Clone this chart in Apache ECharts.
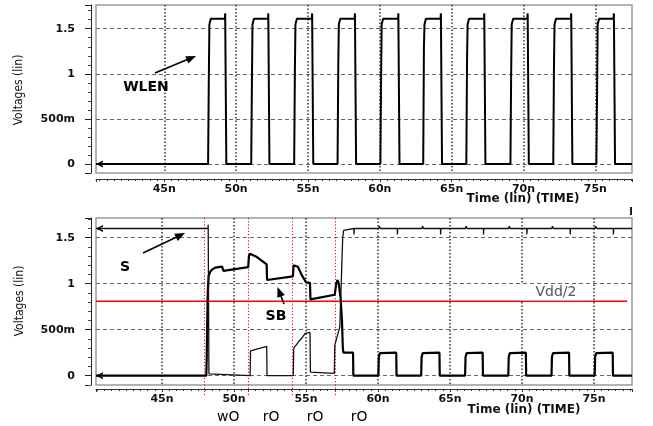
<!DOCTYPE html>
<html>
<head>
<meta charset="utf-8">
<script src="https://cdn.jsdelivr.net/npm/echarts@6/dist/echarts.min.js"></script>
<style>
html,body{margin:0;padding:0;background:#fff;}
#c{width:653px;height:426px;}
</style>
</head>
<body>
<div id="c"></div>
<script>
// ---------- data (time in ns, voltage in V) ----------
const wlen = [
  [40.25,0],
  [48.05,0],[48.08,-0.02],[48.10,0.93],[48.14,1.55],[48.24,1.61],[49.22,1.61],[49.24,1.67],[49.30,1.66],[49.32,0],
  [51.05,0],[51.08,-0.02],[51.10,0.90],[51.14,1.55],[51.24,1.61],[52.22,1.61],[52.24,1.67],[52.30,1.66],[52.32,0],
  [54.04,0],[54.07,-0.02],[54.09,1.03],[54.13,1.55],[54.23,1.61],[55.27,1.61],[55.29,1.67],[55.35,1.66],[55.37,0],
  [57.06,0],[57.09,-0.02],[57.11,1.10],[57.15,1.55],[57.25,1.61],[58.25,1.61],[58.27,1.67],[58.33,1.66],[58.35,0],
  [60.04,0],[60.07,-0.02],[60.09,0.95],[60.13,1.55],[60.23,1.61],[61.27,1.61],[61.29,1.67],[61.35,1.66],[61.37,0],
  [63.02,0],[63.05,-0.02],[63.07,1.30],[63.11,1.55],[63.21,1.61],[64.23,1.61],[64.25,1.67],[64.31,1.66],[64.33,0],
  [66.02,0],[66.05,-0.02],[66.07,1.15],[66.11,1.55],[66.21,1.61],[67.25,1.61],[67.27,1.67],[67.33,1.66],[67.35,0],
  [69.09,0],[69.12,-0.02],[69.14,1.00],[69.18,1.55],[69.28,1.61],[70.27,1.61],[70.29,1.67],[70.35,1.66],[70.37,0],
  [72.07,0],[72.10,-0.02],[72.12,1.10],[72.16,1.55],[72.26,1.61],[73.30,1.61],[73.32,1.67],[73.38,1.66],[73.40,0],
  [75.07,0],[75.10,-0.02],[75.12,0.80],[75.16,1.55],[75.26,1.61],[76.27,1.61],[76.29,1.67],[76.35,1.66],[76.37,0],
  [77.55,0]
];

const sSig = [
  [40.42,1.60],[48.20,1.60],[48.21,1.64],[48.24,1.62],[48.26,0.02],[48.35,0.0],
  [51.12,0.0],[51.15,0.27],[51.25,0.29],[52.27,0.32],[52.30,0.0],
  [54.12,0.0],[54.15,0.30],[54.30,0.33],[54.50,0.37],[54.72,0.41],[54.95,0.46],[55.28,0.47],[55.31,0.04],
  [56.97,0.026],[57.00,0.33],[57.35,0.53],[57.55,1.50],[57.62,1.58],[57.72,1.60],
  [58.33,1.60],[58.34,1.535],[58.36,1.60],
  [60.06,1.60],[60.09,1.625],[60.18,1.60],
  [61.34,1.60],[61.35,1.535],[61.37,1.60],
  [63.06,1.60],[63.09,1.625],[63.18,1.60],
  [64.34,1.60],[64.35,1.535],[64.37,1.60],
  [66.08,1.60],[66.11,1.625],[66.20,1.60],
  [67.32,1.60],[67.33,1.535],[67.35,1.60],
  [69.08,1.60],[69.11,1.625],[69.20,1.60],
  [70.33,1.60],[70.34,1.535],[70.36,1.60],
  [72.08,1.60],[72.11,1.625],[72.20,1.60],
  [73.34,1.60],[73.35,1.535],[73.37,1.60],
  [75.08,1.60],[75.11,1.625],[75.20,1.60],
  [76.34,1.60],[76.35,1.535],[76.37,1.60],
  [77.64,1.60]
];

const sbSig = [
  [40.42,0],[48.08,0],[48.11,0.20],[48.14,0.55],[48.18,0.90],[48.24,1.08],[48.32,1.12],[48.45,1.15],[48.70,1.175],[49.18,1.185],[49.23,1.18],[49.27,1.14],[49.32,1.13],
  [50.99,1.18],[51.04,1.30],[51.12,1.325],[51.25,1.33],[51.60,1.29],[52.27,1.21],[52.30,1.04],
  [54.09,1.08],[54.14,1.20],[54.22,1.22],[54.44,1.185],[54.72,1.09],[55.01,1.015],[55.28,1.01],[55.31,0.83],
  [57.00,0.88],[57.08,0.98],[57.18,1.04],[57.28,1.00],[57.40,0.85],[57.50,0.60],[57.56,0.30],[57.60,0.25],[58.27,0.25],[58.29,0],
  [60.03,0],[60.06,0.20],[60.13,0.245],[60.23,0.25],[61.27,0.25],[61.29,0],
  [63.00,0],[63.03,0.20],[63.10,0.245],[63.20,0.25],[64.27,0.25],[64.29,0],
  [66.05,0],[66.08,0.20],[66.15,0.245],[66.25,0.25],[67.27,0.25],[67.29,0],
  [69.05,0],[69.08,0.20],[69.15,0.245],[69.25,0.25],[70.27,0.25],[70.29,0],
  [72.05,0],[72.08,0.20],[72.15,0.245],[72.25,0.25],[73.27,0.25],[73.29,0],
  [75.05,0],[75.08,0.20],[75.15,0.245],[75.25,0.25],[76.30,0.25],[76.32,0],
  [77.64,0]
];

const vddHalf = 0.81;
const vddLineEnd = 77.30;
const cursorTimes = [47.95, 51.0, 54.05, 57.05];
const opNames = ['wO', 'rO', 'rO', 'rO'];
const opTimes = [49.6, 52.58, 55.63, 58.69];
const yTickText = {'0': '0', '0.5': '500m', '1': '1', '1.5': '1.5'};
const xTickSuffix = 'n';

// ---------- helpers ----------
const TXT = '#111';
function yFmt(v){
  const k = String(Math.round(v * 1000) / 1000);
  return yTickText.hasOwnProperty(k) && Math.abs(v*2 - Math.round(v*2)) < 1e-6 ? yTickText[k] : '';
}
function xFmt(v){
  return Math.abs(v/5 - Math.round(v/5)) < 1e-6 ? Math.round(v) + xTickSuffix : '';
}
const chevron = 'path://M10,0 L0,5 L10,10 L10,7.6 L3.6,5 L10,2.4 Z';
function withStartArrow(arr, size){
  return arr.map((p, i) => i === 0 ? {
    value: p, symbol: chevron, symbolSize: size, symbolOffset: [size[0]/2, 0],
    itemStyle: {color: '#000'}
  } : p);
}

function xAxisCfg(grid, min, max, offset){
  return {
    gridIndex: grid, type: 'value', min: min, max: max, splitNumber: 7,
    minInterval: 5, maxInterval: 5, offset: offset,
    axisLine: {show: true, onZero: false, lineStyle: {color: '#333', width: 1}},
    axisTick: {show: true, inside: false, length: 3, lineStyle: {color: '#333', width: 1}},
    minorTick: {show: true, splitNumber: 10, length: 2, lineStyle: {color: '#333', width: 1}},
    axisLabel: {show: true, formatter: xFmt, margin: 5, color: TXT,
      fontFamily: 'DejaVu Sans', fontWeight: 'bold', fontSize: 11,
      showMinLabel: true, showMaxLabel: true},
    splitLine: {show: true, showMinLine: false, showMaxLine: false,
      lineStyle: {color: '#333', width: 1.5, type: [1.5, 2]}},
    minorSplitLine: {show: false}
  };
}
function yAxisCfg(grid, min, max){
  return {
    gridIndex: grid, type: 'value', min: min, max: max, splitNumber: 4,
    minInterval: 0.5, maxInterval: 0.5, offset: 5,
    axisLine: {show: true, onZero: false, lineStyle: {color: '#222', width: 1}},
    axisTick: {show: true, inside: false, length: 6, lineStyle: {color: '#222', width: 1}},
    minorTick: {show: true, splitNumber: 5, length: 3, lineStyle: {color: '#444', width: 1}},
    axisLabel: {show: true, formatter: yFmt, margin: 16, color: TXT,
      fontFamily: 'DejaVu Sans', fontWeight: 'bold', fontSize: 11},
    splitLine: {show: true, showMinLine: false, showMaxLine: false,
      lineStyle: {color: '#666', width: 1, type: [4, 3]}},
    minorSplitLine: {show: false}
  };
}

function arrow(x1, y1, x2, y2){
  const dx = x2 - x1, dy = y2 - y1, L = Math.hypot(dx, dy);
  const ux = dx / L, uy = dy / L, px = -uy, py = ux;
  const hl = 10, hw = 4;
  const bx = x2 - ux * hl, by = y2 - uy * hl;
  return [
    {type: 'line', shape: {x1: x1, y1: y1, x2: bx + ux*2, y2: by + uy*2},
      style: {stroke: '#000', lineWidth: 1.6}, z: 100},
    {type: 'polygon', shape: {points: [[x2, y2], [bx + px*hw, by + py*hw], [bx - px*hw, by - py*hw]]},
      style: {fill: '#000'}, z: 100}
  ];
}
function label(text, x, y, font, fill, rot){
  return {type: 'text', x: x, y: y, rotation: rot || 0, z: 100,
    style: {text: text, font: font, fill: fill || '#000', align: 'center', verticalAlign: 'middle'}};
}

const chart = echarts.init(document.getElementById('c'), null, {renderer: 'canvas'});

const option = {
  animation: false,
  backgroundColor: '#fff',
  grid: [
    {left: 96, top: 5, width: 536, height: 168, show: true, borderColor: '#9a9a9a', borderWidth: 1.5, backgroundColor: 'transparent'},
    {left: 96, top: 218, width: 536, height: 167, show: true, borderColor: '#9a9a9a', borderWidth: 1.5, backgroundColor: 'transparent'},
    {left: 96, top: 218, width: 536, height: 208, show: false}
  ],
  xAxis: [
    xAxisCfg(0, 40.25, 77.55, 6),
    xAxisCfg(1, 40.42, 77.64, 4),
    {gridIndex: 2, type: 'value', min: 40.42, max: 77.64, show: false}
  ],
  yAxis: [
    yAxisCfg(0, -0.0998, 1.763),
    yAxisCfg(1, -0.101, 1.714),
    {gridIndex: 2, type: 'value', min: 0, max: 1, show: false}
  ],
  series: [
    {
      name: 'WLEN', type: 'line', xAxisIndex: 0, yAxisIndex: 0,
      data: withStartArrow(wlen, [7, 7]), symbol: 'none', showSymbol: true,
      lineStyle: {color: '#000', width: 2}, itemStyle: {color: '#000'}, silent: true, z: 5
    },
    {
      name: 'Vdd/2', type: 'line', xAxisIndex: 1, yAxisIndex: 1,
      data: [[40.42, vddHalf], [vddLineEnd, vddHalf]], symbol: 'none',
      lineStyle: {color: '#ff0000', width: 1.6}, silent: true, z: 3,
      markPoint: {
        symbol: 'rect', symbolSize: [70, 16], silent: true,
        itemStyle: {color: '#fff'},
        label: {show: true, position: 'inside', formatter: 'Vdd/2', color: '#555',
          fontFamily: 'DejaVu Sans', fontSize: 14},
        data: [{coord: [72.36, 0.906]}]
      }
    },
    {
      name: 'SB', type: 'line', xAxisIndex: 1, yAxisIndex: 1,
      data: withStartArrow(sbSig, [7, 7]), symbol: 'none', showSymbol: true,
      lineStyle: {color: '#000', width: 2.2}, itemStyle: {color: '#000'}, silent: true, z: 6
    },
    {
      name: 'S', type: 'line', xAxisIndex: 1, yAxisIndex: 1,
      data: withStartArrow(sSig, [7, 7]), symbol: 'none', showSymbol: true,
      lineStyle: {color: '#111', width: 1.3}, itemStyle: {color: '#000'}, silent: true, z: 6
    },
    {
      name: 'cursors', type: 'line', xAxisIndex: 2, yAxisIndex: 2, data: [], symbol: 'none',
      markLine: {
        silent: true, symbol: 'none', label: {show: false},
        lineStyle: {color: '#ff0000', width: 1, type: [1.2, 2]},
        data: cursorTimes.map(t => [{coord: [t, 1]}, {coord: [t, 0.144]}])
      }, z: 4
    },
    {
      name: 'ops', type: 'scatter', xAxisIndex: 2, yAxisIndex: 2, symbolSize: 0.5,
      itemStyle: {color: '#fff', opacity: 1}, silent: true, z: 20,
      label: {show: true, position: 'inside', formatter: p => p.name, color: '#000',
        opacity: 1, fontFamily: 'DejaVu Sans', fontSize: 14},
      data: opTimes.map((t, i) => ({name: opNames[i], value: [t, 0.042]}))
    }
  ],
  graphic: [
    label('Voltages (lin)', 19, 90, '12px "Liberation Sans Narrow", "DejaVu Sans Condensed", sans-serif', '#111', Math.PI/2),
    label('Voltages (lin)', 20, 301, '12px "Liberation Sans Narrow", "DejaVu Sans Condensed", sans-serif', '#111', Math.PI/2),
    label('Time (lin) (TIME)', 523, 198.5, 'bold 12px "DejaVu Sans"', '#111'),
    label('Time (lin) (TIME)', 524, 410, 'bold 12px "DejaVu Sans"', '#111'),
    label('WLEN', 146, 87, 'bold 14px "DejaVu Sans"', '#000'),
    label('S', 125, 267, 'bold 14px "DejaVu Sans"', '#000'),
    label('SB', 276, 316, 'bold 14px "DejaVu Sans"', '#000'),
    ...arrow(155, 73, 196, 56),
    ...arrow(143, 253, 185, 233),
    ...arrow(284, 304, 277.5, 287),
    {type: 'line', shape: {x1: 631, y1: 207, x2: 631, y2: 215}, style: {stroke: '#123', lineWidth: 2}}
  ]
};
chart.setOption(option);
</script>
</body>
</html>
